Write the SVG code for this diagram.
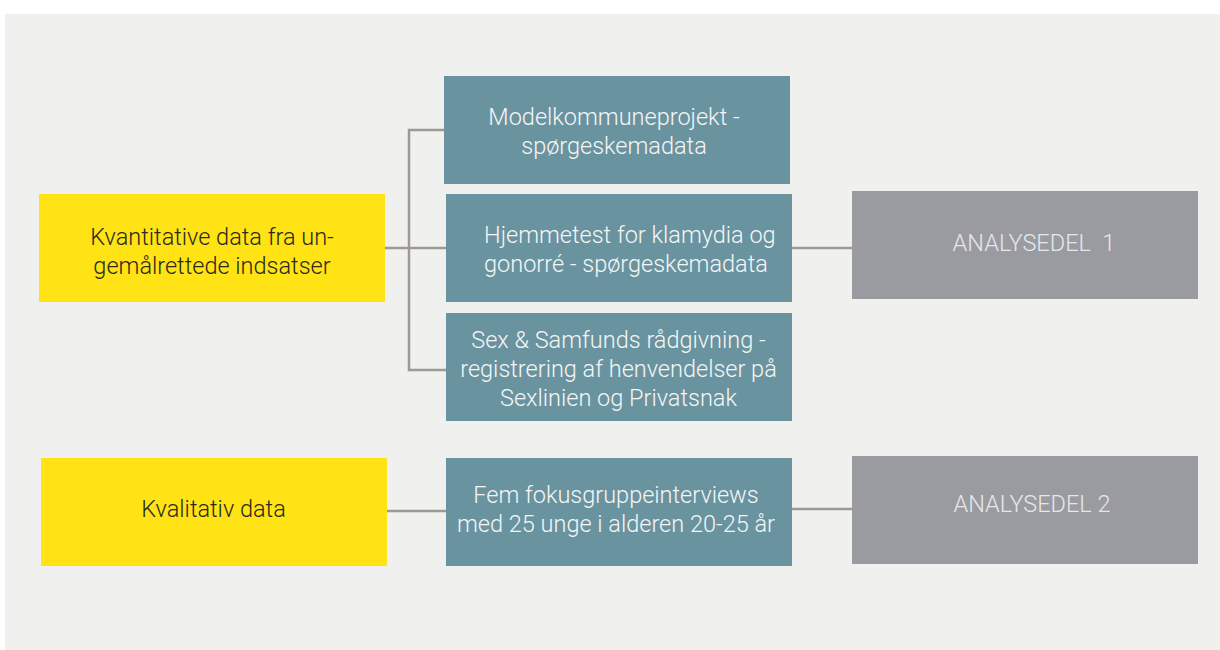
<svg xmlns="http://www.w3.org/2000/svg" width="1220" height="650" viewBox="0 0 1220 650">
<style>
.bg{fill:#f0f1ee}
.yel{fill:#ffe314}
.teal{fill:#6a93a0}
.grey{fill:#9a9ba0}
.t{font-family:Roboto,"Liberation Sans",sans-serif;font-weight:300;font-size:23.5px}
.dark{fill:#2b2a1e}
.light{fill:#f4f6f6}
.gl{fill:#e6e7ea}
.c{text-anchor:middle}
.conn{stroke:#9e9994;stroke-width:2.5;fill:none}
</style>
<rect width="1220" height="650" fill="#ffffff"/>
<rect class="bg" x="5" y="14" width="1215" height="636"/>
<g id="connectors">
<path class="conn" d="M385 248H446"/>
<path class="conn" d="M444 130H409V370H446"/>
<path class="conn" d="M792 248H852"/>
<path class="conn" d="M387 511H446"/>
<path class="conn" d="M792 509H852"/>
</g>
<g id="n-kvant">
<rect class="yel" x="39" y="194" width="346" height="108"/>
<text class="t dark c" x="212" y="245">Kvantitative data fra un-</text>
<text class="t dark c" x="212" y="274">gemålrettede indsatser</text>
</g>
<g id="n-model">
<rect class="teal" x="444" y="76" width="346" height="108"/>
<text class="t light c" x="614" y="125">Modelkommuneprojekt -</text>
<text class="t light c" x="614" y="154">spørgeskemadata</text>
</g>
<g id="n-hjemme">
<rect class="teal" x="446" y="194" width="346" height="108"/>
<text class="t light" x="484" y="243">Hjemmetest for klamydia og</text>
<text class="t light" x="484" y="272">gonorré - spørgeskemadata</text>
</g>
<g id="n-sex">
<rect class="teal" x="446" y="313" width="346" height="108"/>
<text class="t light c" x="618.5" y="348">Sex &amp; Samfunds rådgivning -</text>
<text class="t light c" x="618.5" y="377">registrering af henvendelser på</text>
<text class="t light c" x="618.5" y="406">Sexlinien og Privatsnak</text>
</g>
<g id="n-analyse1">
<rect class="grey" x="852" y="191" width="346" height="108"/>
<text class="t gl c" x="1034" y="251" xml:space="preserve">ANALYSEDEL  1</text>
</g>
<g id="n-kval">
<rect class="yel" x="41" y="458" width="346" height="108"/>
<text class="t dark c" x="213.5" y="517">Kvalitativ data</text>
</g>
<g id="n-fem">
<rect class="teal" x="446" y="458" width="346" height="108"/>
<text class="t light c" x="616" y="503">Fem fokusgruppeinterviews</text>
<text class="t light c" x="616" y="532">med 25 unge i alderen 20-25 år</text>
</g>
<g id="n-analyse2">
<rect class="grey" x="852" y="456" width="346" height="108"/>
<text class="t gl c" x="1032" y="512">ANALYSEDEL 2</text>
</g>
</svg>
